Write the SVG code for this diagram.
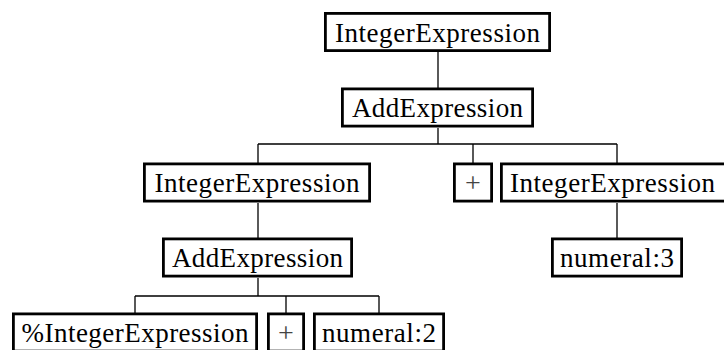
<svg xmlns="http://www.w3.org/2000/svg" width="724" height="350" viewBox="0 0 724 350">
  <style>
    .box { fill: #ffffff; stroke: #000000; stroke-width: 2.8; }
    text { font-family: 'Liberation Serif', serif; fill: #000000; text-anchor: middle; }
    .lbl { font-size: 27px; }
    .op { font-size: 28px; fill: #444444; }
    .edge { fill: none; stroke: #000000; stroke-width: 1.3; }
  </style>
  <rect width="724" height="350" fill="#ffffff"/>

  <!-- tree edges -->
  <g id="connectors">
    <path class="edge" d="M438,52 V88"/>
    <path class="edge" d="M438,128 V144 M258,144 H617 M258,144 V163 M473,144 V163 M617,144 V163"/>
    <path class="edge" d="M258,203 V238"/>
    <path class="edge" d="M617,203 V238"/>
    <path class="edge" d="M258,278 V296 M135,296 H379 M135,296 V313 M286,296 V313 M379,296 V313"/>
  </g>

  <g id="root-integer-expression">
    <rect class="box" x="325.4" y="13.4" width="224.2" height="37.2"/>
    <text class="lbl" x="437.5" y="41.5" textLength="205" lengthAdjust="spacing">IntegerExpression</text>
  </g>

  <g id="add-expression-1">
    <rect class="box" x="342.4" y="88.9" width="190.2" height="37.2"/>
    <text class="lbl" x="437.5" y="116.5" textLength="171" lengthAdjust="spacing">AddExpression</text>
  </g>

  <g id="integer-expression-left">
    <rect class="box" x="144.4" y="163.9" width="225.2" height="37.2"/>
    <text class="lbl" x="257" y="191.5" textLength="205" lengthAdjust="spacing">IntegerExpression</text>
  </g>

  <g id="plus-1">
    <rect class="box" x="454.4" y="163.9" width="37.2" height="37.2"/>
    <text class="op" x="473" y="192">+</text>
  </g>

  <g id="integer-expression-right">
    <rect class="box" x="501.4" y="163.9" width="225.2" height="37.2"/>
    <text class="lbl" x="612.5" y="191.5" textLength="205" lengthAdjust="spacing">IntegerExpression</text>
  </g>

  <g id="numeral-3">
    <rect class="box" x="552.4" y="238.9" width="129.2" height="37.2"/>
    <text class="lbl" x="617" y="266.5" textLength="114" lengthAdjust="spacing">numeral:3</text>
  </g>

  <g id="add-expression-2">
    <rect class="box" x="163.4" y="238.9" width="188.2" height="37.2"/>
    <text class="lbl" x="257.5" y="266.5" textLength="171" lengthAdjust="spacing">AddExpression</text>
  </g>

  <g id="percent-integer-expression">
    <rect class="box" x="13.4" y="313.9" width="243.2" height="37.2"/>
    <text class="lbl" x="135" y="341.5" textLength="227" lengthAdjust="spacing">%IntegerExpression</text>
  </g>

  <g id="plus-2">
    <rect class="box" x="268.4" y="313.9" width="35.2" height="37.2"/>
    <text class="op" x="286" y="342">+</text>
  </g>

  <g id="numeral-2">
    <rect class="box" x="314.4" y="313.9" width="129.2" height="37.2"/>
    <text class="lbl" x="379" y="341.5" textLength="114" lengthAdjust="spacing">numeral:2</text>
  </g>
</svg>
